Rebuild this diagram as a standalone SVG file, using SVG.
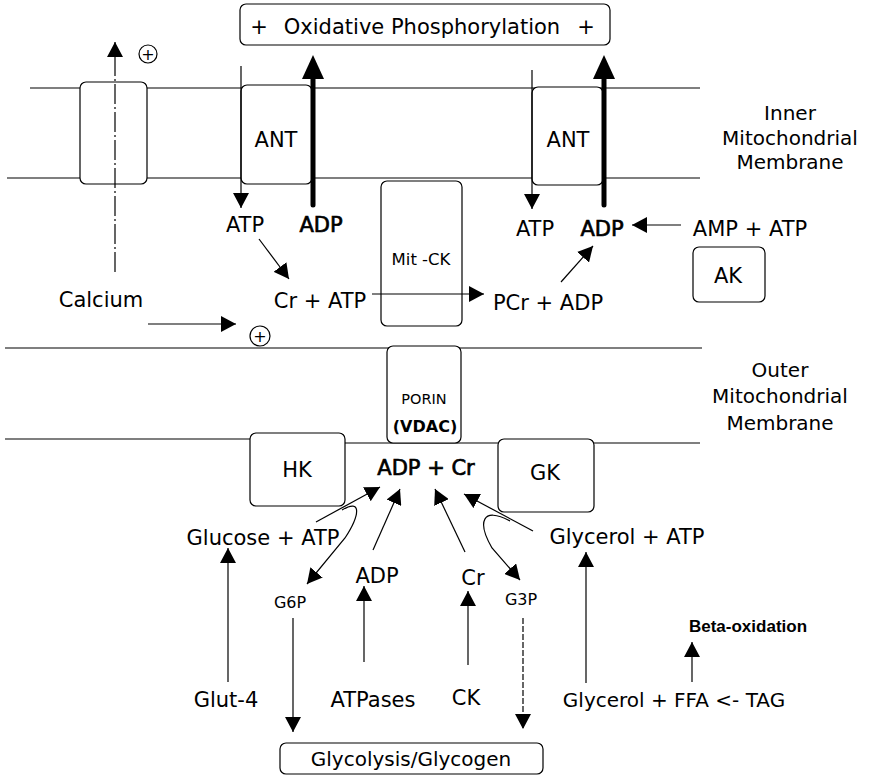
<svg xmlns="http://www.w3.org/2000/svg" width="875" height="778" viewBox="0 0 875 778">
<style>
text{font-family:"DejaVu Sans","Liberation Sans",sans-serif;fill:#000;text-anchor:middle}
.m{font-size:21px}
.s{font-size:16px}
.lab{font-size:20px}
.b{font-weight:bold}
.h{stroke:#000;stroke-width:0.7}
.box{fill:#fff;stroke:#000;stroke-width:1.2}
.mem{stroke:#000;stroke-width:1.2;fill:none}
.c{stroke:#000;stroke-width:1.2;fill:none}
.thick{stroke:#000;stroke-width:5;stroke-linecap:round;fill:none}
</style>
<defs>
<marker id="ah" markerUnits="userSpaceOnUse" markerWidth="16" markerHeight="16" refX="15" refY="8" orient="auto" viewBox="0 0 16 16">
<path d="M0,0 L15,8 L0,16 z" fill="#000"/>
</marker>
</defs>
<rect width="875" height="778" fill="#fff"/>
<g id="membranes">
<line class="mem" x1="30" y1="88" x2="700" y2="88"/>
<line class="mem" x1="7" y1="178" x2="700" y2="178"/>
<line class="mem" x1="5" y1="348" x2="702" y2="348"/>
<line class="mem" x1="5" y1="439" x2="252" y2="439"/>
<line class="mem" x1="345" y1="443" x2="700" y2="443"/>
<text class="lab" x="790" y="120">Inner</text>
<text class="lab" x="790" y="145">Mitochondrial</text>
<text class="lab" x="790" y="169">Membrane</text>
<text class="lab" x="780" y="377">Outer</text>
<text class="lab" x="780" y="403">Mitochondrial</text>
<text class="lab" x="780" y="430">Membrane</text>
</g>
<g id="oxphos">
<rect class="box" x="240" y="4" width="370" height="41" rx="6"/>
<text class="m" x="259" y="34">+</text>
<text class="m" x="422" y="34">Oxidative Phosphorylation</text>
<text class="m" x="586" y="34">+</text>
</g>
<g id="ca-channel"><rect class="box" x="80" y="82" width="67" height="102" rx="6"/></g>
<g id="ant-left"><rect class="box" x="241" y="85" width="71" height="99" rx="6"/><text class="m" x="276" y="147">ANT</text></g>
<g id="ant-right"><rect class="box" x="532" y="87" width="71" height="98" rx="6"/><text class="m" x="568" y="147">ANT</text></g>
<g id="mitck"><rect class="box" x="381" y="181" width="81" height="145" rx="6"/><text x="421" y="265" style="font-size:16.5px">Mit -CK</text></g>
<g id="ak"><rect class="box" x="693" y="247" width="72" height="55" rx="6"/><text class="m" x="728" y="283">AK</text></g>
<g id="porin"><rect class="box" x="387" y="346" width="74" height="97" rx="6"/><text x="424" y="404" style="font-size:14.5px">PORIN</text><text class="b" x="425" y="432" style="font-size:16px">(VDAC)</text></g>
<g id="hk"><rect class="box" x="250" y="433" width="95" height="73" rx="6"/><text class="m" x="297" y="477">HK</text></g>
<g id="gk"><rect class="box" x="498" y="439" width="96" height="73" rx="6"/><text class="m" x="545" y="480">GK</text></g>
<g id="glyco"><rect class="box" x="280" y="743" width="263" height="31" rx="6"/><text class="lab" x="411" y="766">Glycolysis/Glycogen</text></g>
<g id="labels">
<circle cx="148" cy="54" r="9" fill="#fff" stroke="#000" stroke-width="1.2"/>
<text x="148" y="60" style="font-size:16px">+</text>
<circle cx="260" cy="336" r="10" fill="#fff" stroke="#000" stroke-width="1.2"/>
<text x="260" y="342" style="font-size:16px">+</text>
<text class="m" x="245" y="232">ATP</text>
<text class="m h" x="321" y="232">ADP</text>
<text class="m" x="535" y="236">ATP</text>
<text class="m h" x="602" y="236">ADP</text>
<text class="m" x="750" y="236">AMP + ATP</text>
<text class="m" x="101" y="307">Calcium</text>
<text class="m" x="320" y="308">Cr + ATP</text>
<text class="m" x="548" y="310">PCr + ADP</text>
<text class="m h" x="426" y="475">ADP + Cr</text>
<text class="m" x="263" y="545">Glucose + ATP</text>
<text class="m" x="627" y="544">Glycerol + ATP</text>
<text class="m" x="377" y="583">ADP</text>
<text class="m" x="473" y="585">Cr</text>
<text class="s" x="290" y="608">G6P</text>
<text class="s" x="521" y="605">G3P</text>
<text class="m" x="226" y="707">Glut-4</text>
<text class="m" x="373" y="707">ATPases</text>
<text class="m" x="466" y="705">CK</text>
<text class="lab" x="674" y="707">Glycerol + FFA &lt;- TAG</text>
<text x="748" y="632" style="font-family:'Liberation Sans',Arial,sans-serif;font-size:17px;font-weight:bold">Beta-oxidation</text>
</g>
<g id="connectors">
<line class="c" x1="115" y1="272" x2="115" y2="42" stroke-dasharray="20 3 2 3" marker-end="url(#ah)"/>
<line class="c" x1="241" y1="66" x2="241" y2="208" marker-end="url(#ah)"/>
<line class="c" x1="532" y1="70" x2="532" y2="209" marker-end="url(#ah)"/>
<line class="thick" x1="313" y1="205" x2="313" y2="74"/>
<polygon points="313,55 302,79 324,79" fill="#000"/>
<line class="thick" x1="604" y1="205" x2="604" y2="74"/>
<polygon points="604,55 593,79 615,79" fill="#000"/>
<line class="c" x1="259" y1="239" x2="289" y2="279" marker-end="url(#ah)"/>
<line class="c" x1="372" y1="294" x2="484" y2="294" marker-end="url(#ah)"/>
<line class="c" x1="561" y1="282" x2="593" y2="246" marker-end="url(#ah)"/>
<line class="c" x1="681" y1="225" x2="632" y2="225" marker-end="url(#ah)"/>
<line class="c" x1="148" y1="324" x2="236" y2="324" marker-end="url(#ah)"/>
<line class="c" x1="316" y1="522" x2="380" y2="487" marker-end="url(#ah)"/>
<path class="c" d="M342,510 C362,498 360,515 345,538 L307,584" marker-end="url(#ah)"/>
<line class="c" x1="373" y1="550" x2="400" y2="489" marker-end="url(#ah)"/>
<line class="c" x1="465" y1="552" x2="435" y2="489" marker-end="url(#ah)"/>
<line class="c" x1="533" y1="531" x2="464" y2="494" marker-end="url(#ah)"/>
<path class="c" d="M510,521 C482,506 477,522 492,548 L520,580" marker-end="url(#ah)"/>
<line class="c" x1="228" y1="682" x2="228" y2="548" marker-end="url(#ah)"/>
<line class="c" x1="364" y1="662" x2="364" y2="586" marker-end="url(#ah)"/>
<line class="c" x1="468" y1="665" x2="468" y2="591" marker-end="url(#ah)"/>
<line class="c" x1="293" y1="618" x2="293" y2="732" marker-end="url(#ah)"/>
<line class="c" x1="523" y1="618" x2="523" y2="729" stroke-dasharray="6 2" marker-end="url(#ah)"/>
<line class="c" x1="586" y1="683" x2="586" y2="552" marker-end="url(#ah)"/>
<line class="c" x1="692" y1="682" x2="692" y2="642" marker-end="url(#ah)"/>
</g>
</svg>
